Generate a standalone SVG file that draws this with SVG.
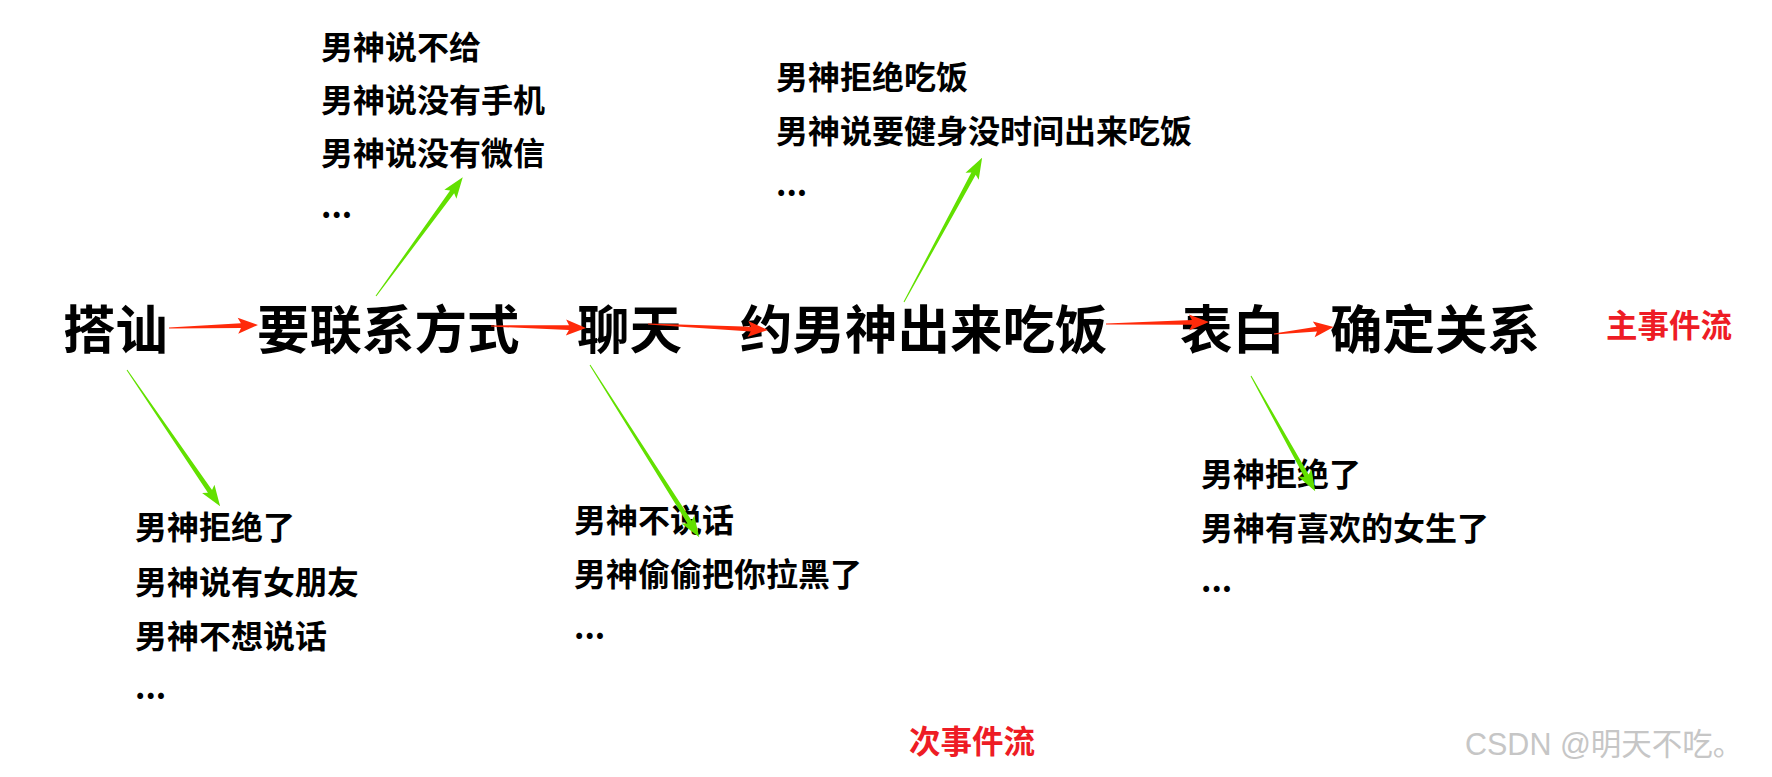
<svg xmlns="http://www.w3.org/2000/svg" width="1772" height="777" viewBox="0 0 1772 777">
<style>
.main{font-family:"Noto Sans CJK SC","Liberation Sans",sans-serif;font-weight:bold;font-size:52.5px;fill:#000}
.sub{font-family:"Noto Sans CJK SC","Liberation Sans",sans-serif;font-weight:bold;font-size:32px;fill:#000}
.lbl{font-family:"Noto Sans CJK SC","Liberation Sans",sans-serif;font-weight:bold;font-size:31.5px;fill:#ee1c25}
.wm{font-family:"Liberation Sans","Noto Sans CJK SC",sans-serif;font-size:30.5px;fill:#c6c6c6}
.red{fill:#ff2a0a}
.green{fill:#62e000}
</style>
<rect width="1772" height="777" fill="#fff"/>
<g id="n1"><text class="main" x="63" y="349">搭讪</text></g>
<g id="n2"><text class="main" x="257" y="349">要联系方式</text></g>
<g id="n3"><text class="main" x="577" y="349">聊天</text></g>
<g id="n4"><text class="main" x="740" y="349">约男神出来吃饭</text></g>
<g id="n5"><text class="main" x="1180" y="349">表白</text></g>
<g id="n6"><text class="main" x="1330" y="349">确定关系</text></g>
<g id="label-main"><text class="lbl" x="1606" y="337">主事件流</text></g>
<g id="label-sub"><text class="lbl" x="909" y="753">次事件流</text></g>
<g id="listA">
<text class="sub" x="321" y="59">男神说不给</text>
<text class="sub" x="321" y="112">男神说没有手机</text>
<text class="sub" x="321" y="165">男神说没有微信</text>
<text class="sub" x="321" y="218">...</text>
</g>
<g id="listB">
<text class="sub" x="776" y="89">男神拒绝吃饭</text>
<text class="sub" x="776" y="143">男神说要健身没时间出来吃饭</text>
<text class="sub" x="776" y="196">...</text>
</g>
<g id="listC">
<text class="sub" x="135" y="539">男神拒绝了</text>
<text class="sub" x="135" y="594">男神说有女朋友</text>
<text class="sub" x="135" y="648">男神不想说话</text>
<text class="sub" x="135" y="699">...</text>
</g>
<g id="listD">
<text class="sub" x="574" y="532">男神不说话</text>
<text class="sub" x="574" y="586">男神偷偷把你拉黑了</text>
<text class="sub" x="574" y="639">...</text>
</g>
<g id="listE">
<text class="sub" x="1201" y="486">男神拒绝了</text>
<text class="sub" x="1201" y="540">男神有喜欢的女生了</text>
<text class="sub" x="1201" y="592">...</text>
</g>
<g id="watermark"><text class="wm" x="1465" y="755">CSDN @明天不吃。</text></g>
<g id="connectors">
<polygon class="red" transform="translate(169,328) rotate(-1.93)" points="0,-0.6 72,-2.4 69,-8 89,0 69,8 72,2.4 0,0.6"/>
<polygon class="red" transform="translate(491,326) rotate(1.21)" points="0,-0.6 78,-2.4 75,-8 95,0 75,8 78,2.4 0,0.6"/>
<polygon class="red" transform="translate(648,324) rotate(2.86)" points="0,-0.6 103,-2.4 100,-8 120,0 100,8 103,2.4 0,0.6"/>
<polygon class="red" transform="translate(1106,324) rotate(-1.11)" points="0,-0.6 86,-2.4 83,-8 103,0 83,8 86,2.4 0,0.6"/>
<polygon class="red" transform="translate(1274,334) rotate(-6.65)" points="0,-0.6 43,-2.4 40,-8 60,0 40,8 43,2.4 0,0.6"/>
<polygon class="green" transform="translate(376,296) rotate(-53.83)" points="0,-0.5 129,-2.5 126,-7.5 147,0 126,7.5 129,2.5 0,0.5"/>
<polygon class="green" transform="translate(904,302) rotate(-61.56)" points="0,-0.5 146,-2.5 143,-7.5 164,0 143,7.5 146,2.5 0,0.5"/>
<polygon class="green" transform="translate(127,370) rotate(55.64)" points="0,-0.5 147,-2.5 144,-7.5 165,0 144,7.5 147,2.5 0,0.5"/>
<polygon class="green" transform="translate(590,365) rotate(57.63)" points="0,-0.5 186,-2.5 183,-7.5 204,0 183,7.5 186,2.5 0,0.5"/>
<polygon class="green" transform="translate(1251,376) rotate(60.9)" points="0,-0.5 114,-2.5 111,-7.5 132,0 111,7.5 114,2.5 0,0.5"/>
</g>
</svg>
